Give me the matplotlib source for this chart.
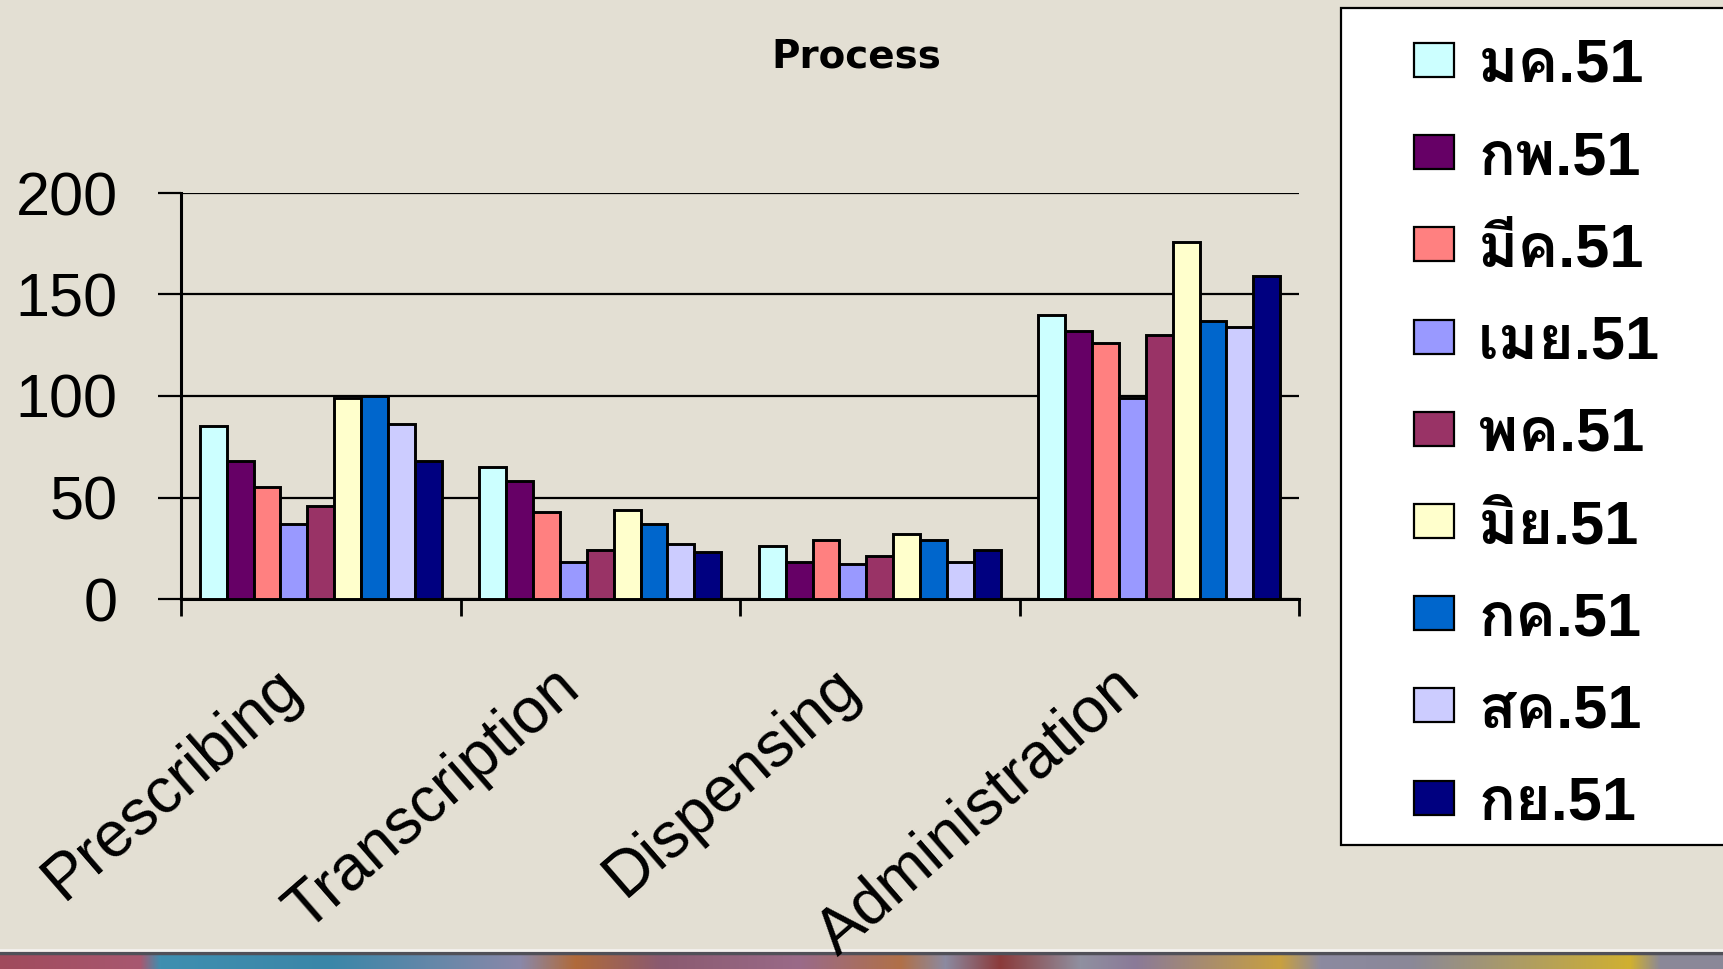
import matplotlib
matplotlib.use("Agg")
import matplotlib.pyplot as plt
import matplotlib.patches as mpatches
import matplotlib.transforms as mtransforms
import numpy as np

# ── Data ──────────────────────────────────────────────────────────────────────
PROCESSES = ["Prescribing", "Transcription", "Dispensing", "Administration"]
MONTHS = ["มค.51", "กพ.51", "มีค.51", "เมย.51", "พค.51",
          "มิย.51", "กค.51", "สค.51", "กย.51"]

prescribing    = [85, 68, 55, 37, 46, 99, 100, 86, 68]
transcription  = [65, 58, 43, 18, 24, 44, 37, 27, 23]
dispensing     = [26, 18, 29, 17, 21, 32, 29, 18, 24]
administration = [140, 132, 126, 99, 130, 176, 137, 134, 159]

Y_TICKS = [0, 50, 100, 150, 200]

# ── Style ─────────────────────────────────────────────────────────────────────
COLORS = ["#CCFFFF", "#660066", "#FF8080", "#9999FF", "#993366",
          "#FFFFCC", "#0066CC", "#CCCCFF", "#000080"]
BG = "#e3dfd3"
LATIN = "Liberation Sans"
LEGEND_FONT = [LATIN, "Loma", "Noto Sans Thai"]

W, H = 1723, 969
fig = plt.figure(figsize=(W / 100, H / 100), dpi=100, facecolor=BG)

# ── Decorative picture strip along the bottom edge (kept behind everything) ──
stops = [0, 140, 160, 330, 520, 575, 660, 800, 900, 945, 1000, 1080, 1135,
         1280, 1320, 1410, 1630, 1660, 1723]
cols = ["#a04a5c", "#a85870", "#3f8fb0", "#3a86a8", "#8a88a8", "#b06a3a",
        "#8a5a70", "#9a6a88", "#b07048", "#8c8aa0", "#8a3a3a", "#9090a0",
        "#8a7a98", "#c8a040", "#8c8aa0", "#8a8898", "#d0b030", "#8a8898",
        "#8a8898"]
rgb = np.array([matplotlib.colors.to_rgb(c) for c in cols])
xs = np.arange(W)
strip = np.stack([np.interp(xs, stops, rgb[:, k]) for k in range(3)], axis=-1)
sax = fig.add_axes([0, 0, 1, 20 / H])
sax.imshow(strip[None, :, :], aspect="auto", extent=(0, W, 0, 1))
sax.axhline(0.93, color="#505058", linewidth=2.5)
sax.plot([0, W], [1.08, 1.08], color="#f4f2ee", linewidth=2, clip_on=False)
sax.set_xlim(0, W)
sax.set_axis_off()
sax.set_zorder(-1)

# plot area, in canvas pixels
left, right, top, base = 181, 1299, 193, 599
ax = fig.add_axes([left / W, 1 - base / H, (right - left) / W, (base - top) / H])
ax.set_facecolor("none")

values = np.array([prescribing, transcription, dispensing, administration])
n_series = len(MONTHS)
group = 0.865
bw = group / n_series
x = np.arange(len(PROCESSES))
for i in range(n_series):
    ax.bar(x - group / 2 + bw * (i + 0.5), values[:, i], width=bw,
           color=COLORS[i], edgecolor="black", linewidth=2.1, zorder=3)

ax.set_xlim(-0.5, len(PROCESSES) - 0.5)
ax.set_ylim(Y_TICKS[0], Y_TICKS[-1])
ax.set_yticks(Y_TICKS)
ax.set_yticklabels([str(t) for t in Y_TICKS], fontsize=44, family=LATIN)
ax.yaxis.grid(True, color="black", linewidth=1.6, zorder=1)
ax.set_axisbelow(True)
ax.tick_params(axis="y", direction="out", length=16.5, width=1.6, pad=29)

ax.set_xticks(x)
ax.set_xticks(np.arange(len(PROCESSES) + 1) - 0.5, minor=True)
ax.set_xticklabels(PROCESSES, fontsize=46, family=LATIN, rotation=41,
                   ha="right", va="top", rotation_mode="anchor")
ax.tick_params(axis="x", which="major", length=0, pad=41)
ax.tick_params(axis="x", which="minor", direction="out", length=12, width=2)
shift = mtransforms.ScaledTranslation(-0.48, 0, fig.dpi_scale_trans)
for lab in ax.get_xticklabels():
    lab.set_transform(lab.get_transform() + shift)

for s in ("top", "right"):
    ax.spines[s].set_visible(False)
for s in ("left", "bottom"):
    ax.spines[s].set_linewidth(2.2)

fig.text(856 / W, 1 - 56 / H, "Process", ha="center", va="center",
         fontsize=28, fontweight="bold", family="DejaVu Sans")

# ── Legend box ────────────────────────────────────────────────────────────────
fig.patches.append(mpatches.Rectangle(
    (1341 / W, 1 - 845 / H), 420 / W, (845 - 8) / H, transform=fig.transFigure,
    facecolor="white", edgecolor="black", linewidth=1.6, zorder=5))
step = 92.2
for i, (label, c) in enumerate(zip(MONTHS, COLORS)):
    cy = 60 + i * step
    fig.patches.append(mpatches.Rectangle(
        (1414 / W, 1 - (cy + 17) / H), 40 / W, 34 / H, transform=fig.transFigure,
        facecolor=c, edgecolor="black", linewidth=1.6, zorder=6))
    fig.text(1478 / W, 1 - (cy + 22) / H, label, ha="left", va="baseline",
             fontsize=44, fontweight="bold", family=LEGEND_FONT, zorder=7)

fig.savefig("out.png", dpi=100, facecolor=BG)
